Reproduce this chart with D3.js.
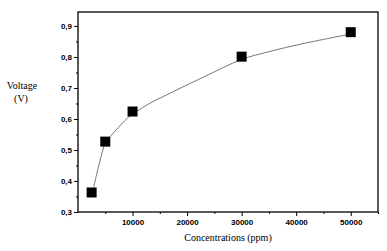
<!DOCTYPE html>
<html>
<head>
<meta charset="utf-8">
<script src="https://cdn.jsdelivr.net/npm/d3@7"></script>
<style>
  body { margin: 0; background: #fff; }
  .tick text { font-family: "Liberation Sans", Arial, sans-serif; font-size: 8px; font-weight: bold; }
  .title { font-family: "Liberation Serif", "Times New Roman", serif; font-size: 10px; }
</style>
</head>
<body>
<svg id="chart" width="387" height="251"></svg>
<script>
// measured points
let concentrations = [2500, 5000, 10000, 30000, 50000];
let voltages = [0.363, 0.527, 0.624, 0.801, 0.880];

// fitted curve
let fitX = [2900, 3400, 4000, 5000, 5900, 6800, 8000, 9200, 11000, 13200, 16300, 18700, 23000, 30000, 35000, 41000, 50000];
let fitY = [0.382, 0.420, 0.463, 0.522, 0.543, 0.561, 0.584, 0.605, 0.627, 0.651, 0.678, 0.699, 0.735, 0.792, 0.817, 0.842, 0.874];

let xTicks = [10000, 20000, 30000, 40000, 50000];
let yTicks = [0.3, 0.4, 0.5, 0.6, 0.7, 0.8, 0.9];

let svg = d3.select("#chart");
let margin = {top: 12, right: 9, bottom: 39, left: 78},
    width = +svg.attr("width") - margin.left - margin.right,
    height = +svg.attr("height") - margin.top - margin.bottom,
    g = svg.append("g").attr("transform", "translate(" + margin.left + "," + margin.top + ")");

let x = d3.scaleLinear().domain([0, 55000]).range([0, width]);
let y = d3.scaleLinear().domain([0.3, 0.945]).range([height, 0]);

let comma = d => d3.format(".1f")(d).replace(".", ",");

// minor ticks first
g.append("g")
    .attr("transform", "translate(0," + height + ")")
    .call(d3.axisBottom(x).tickValues(d3.range(5000, 55001, 10000)).tickSize(2).tickFormat(""))
    .call(a => a.select(".domain").remove());
g.append("g")
    .call(d3.axisLeft(y).tickValues(d3.range(0.35, 0.95, 0.1)).tickSize(2).tickFormat(""))
    .call(a => a.select(".domain").remove());

g.append("g")
    .attr("transform", "translate(0," + height + ")")
    .call(d3.axisBottom(x).tickValues(xTicks).tickSize(4).tickPadding(3).tickFormat(d3.format("d")))
    .call(a => a.select(".domain").remove());

g.append("g")
    .call(d3.axisLeft(y).tickValues(yTicks).tickSize(4).tickPadding(2).tickFormat(comma))
    .call(a => a.select(".domain").remove());

g.selectAll(".tick line").attr("stroke", "#000");
g.selectAll(".tick text").attr("fill", "#000");

// frame
g.append("rect")
    .attr("width", width)
    .attr("height", height)
    .attr("fill", "none")
    .attr("stroke", "#000")
    .attr("stroke-width", 1.3);

let line = d3.line()
    .x((d, i) => x(fitX[i]))
    .y(d => y(d))
    .curve(d3.curveCatmullRom.alpha(0.5));

g.append("path")
    .datum(fitY)
    .attr("fill", "none")
    .attr("stroke", "#777")
    .attr("stroke-width", 1)
    .attr("d", line);

let size = 10;
g.selectAll(".pt")
    .data(voltages)
    .enter().append("rect")
    .attr("class", "pt")
    .attr("x", (d, i) => x(concentrations[i]) - size / 2)
    .attr("y", d => y(d) - size / 2)
    .attr("width", size)
    .attr("height", size)
    .attr("fill", "#000");

svg.append("text")
    .attr("class", "title")
    .attr("x", margin.left + width / 2)
    .attr("y", 241)
    .attr("text-anchor", "middle")
    .text("Concentrations  (ppm)");

svg.append("text")
    .attr("class", "title")
    .attr("x", 22)
    .attr("y", 89)
    .attr("text-anchor", "middle")
    .text("Voltage");
svg.append("text")
    .attr("class", "title")
    .attr("x", 21)
    .attr("y", 102)
    .attr("text-anchor", "middle")
    .text("(V)");
</script>
</body>
</html>
